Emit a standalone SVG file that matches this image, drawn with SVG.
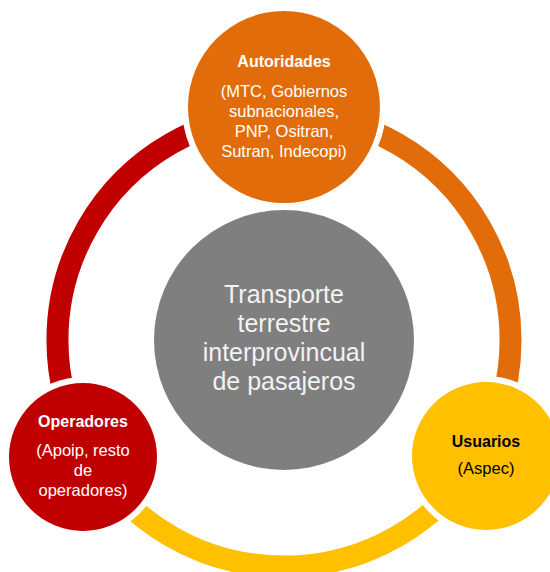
<svg xmlns="http://www.w3.org/2000/svg" width="550" height="572" viewBox="0 0 550 572">
<style>
.ring{fill:none;stroke-width:22}
.halo{fill:#ffffff}
.t{font-family:"Liberation Sans",Arial,sans-serif;text-anchor:middle}
.b{font-weight:bold;font-size:16px}
.r{font-size:16.5px}
.w{fill:#ffffff}
.k{fill:#000000}
.c{font-size:25px;fill:#f2f2f2}
</style>
<rect width="550" height="572" fill="#ffffff"/>
<g id="connectors">
<path class="ring" stroke="#c00000" d="M284,113.5 A226.5,226.5 0 0 0 87.8,453.25"/>
<path class="ring" stroke="#e36c0a" d="M284,113.5 A226.5,226.5 0 0 1 480.2,453.25"/>
<path class="ring" stroke="#ffc000" d="M87.8,453.25 A226.5,226.5 0 0 0 480.2,453.25"/>
</g>
<g id="center">
<circle cx="284" cy="340" r="130" fill="#7f7f7f"/>
<text class="t c" x="284" y="303">Transporte</text>
<text class="t c" x="284" y="332">terrestre</text>
<text class="t c" x="284" y="361">interprovincual</text>
<text class="t c" x="284" y="390">de pasajeros</text>
</g>
<g id="autoridades">
<circle class="halo" cx="284" cy="107" r="102"/>
<circle cx="284" cy="107" r="96" fill="#e36c0a"/>
<text class="t b w" x="284" y="67">Autoridades</text>
<text class="t r w" x="284" y="97">(MTC, Gobiernos</text>
<text class="t r w" x="284" y="117">subnacionales,</text>
<text class="t r w" x="284" y="137">PNP, Ositran,</text>
<text class="t r w" x="284" y="157">Sutran, Indecopi)</text>
</g>
<g id="operadores">
<circle class="halo" cx="83" cy="457" r="80"/>
<circle cx="83" cy="457" r="74" fill="#c00000"/>
<text class="t b w" x="83" y="427">Operadores</text>
<text class="t r w" x="83" y="456">(Apoip, resto</text>
<text class="t r w" x="83" y="476">de</text>
<text class="t r w" x="83" y="496">operadores)</text>
</g>
<g id="usuarios">
<circle class="halo" cx="486" cy="456" r="80"/>
<circle cx="486" cy="456" r="74" fill="#ffc000"/>
<text class="t b k" x="486" y="447">Usuarios</text>
<text class="t r k" x="486" y="474">(Aspec)</text>
</g>
</svg>
